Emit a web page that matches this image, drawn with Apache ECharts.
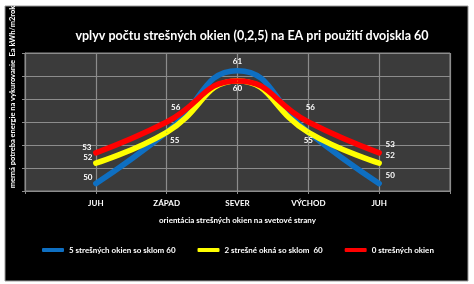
<!DOCTYPE html>
<html>
<head>
<meta charset="utf-8">
<script src="https://cdn.jsdelivr.net/npm/echarts@6/dist/echarts.min.js"></script>
<style>
html,body{margin:0;padding:0;background:#fff;}
#c{width:474px;height:284px;}
</style>
</head>
<body>
<div id="c"></div>
<script>
// ---- data ----
const categories = ['JUH', 'ZÁPAD', 'SEVER', 'VÝCHOD', 'JUH'];
const seriesNames = ['5 strešných okien so sklom 60', '2 strešné okná so sklom  60', '0 strešných okien'];
const blueValues = [50, 55, 61, 55, 50];
const yellowValues = [52, 55, 60, 55, 52];
const redValues = [53, 56, 60, 56, 53];
const titleText = 'vplyv počtu strešných okien (0,2,5) na EA pri použití dvojskla 60';
const xTitle = 'orientácia strešných okien na svetové strany';
const yTitle = 'merná potreba energie na vykurovanie  Ea kWh/m2rok';

// label placement per series/point (null = no label)
const blueLabelOffsets = [[-8, -6], [8, 8], [0, -9], [0, 8], [11, -8]];
const yellowLabelOffsets = [[-8, -6], null, [0, 7], null, [11, -8]];
const redLabelOffsets = [[-9, -5], [9, -15], null, [2, -15], [11, -8]];

const colors = ['#0e6fc2', '#ffff00', '#ff0000'];
const FONT = 'Lato';

const cats = [''].concat(categories, ['']);
function build(values, offsets, color, name) {
  const data = [null];
  values.forEach((v, i) => {
    const off = offsets[i];
    data.push({
      value: v,
      label: off ? { show: true, position: 'inside', offset: off } : { show: false }
    });
  });
  data.push(null);
  return {
    name: name,
    type: 'line',
    data: data,
    smooth: 0.5,
    symbol: 'circle',
    symbolSize: 1,
    showSymbol: true,
    connectNulls: false,
    lineStyle: { color: color, width: 5.5, cap: 'round' },
    itemStyle: { color: color },
    label: { color: '#fff', fontFamily: FONT, fontWeight: 'bold', fontSize: 8, formatter: '{c}' },
    emphasis: { disabled: true },
    animation: false
  };
}

const chart = echarts.init(document.getElementById('c'), null, { renderer: 'canvas' });
chart.setOption({
  backgroundColor: '#ffffff',
  animation: false,
  color: colors,
  graphic: [
    { type: 'rect', z: -10, shape: { x: 5, y: 6, width: 463, height: 275 },
      style: { fill: '#000', stroke: '#9a9a9a', lineWidth: 1 } },
    { type: 'text', x: 13, y: 97, rotation: Math.PI / 2, z: 10,
      style: { text: yTitle, fill: '#fff', font: 'bold 7.5px ' + FONT, textAlign: 'center', textVerticalAlign: 'middle' } }
  ],
  title: {
    text: titleText, left: 247, top: 24, textAlign: 'center',
    textStyle: { color: '#fff', fontFamily: FONT, fontWeight: 'bold', fontSize: 12.5 }
  },
  legend: {
    left: 42, top: 246, padding: 0, itemWidth: 22, itemHeight: 4, itemGap: 22,
    icon: 'roundRect',
    data: seriesNames,
    textStyle: { color: '#fff', fontFamily: FONT, fontWeight: 'bold', fontSize: 8 }
  },
  grid: { left: 25, right: 24, top: 53, bottom: 93, show: true, backgroundColor: '#3b3b3b', borderColor: '#8c8c8c', borderWidth: 1 },
  xAxis: {
    type: 'category', data: cats, boundaryGap: false,
    name: xTitle, nameLocation: 'middle', nameGap: 25,
    nameTextStyle: { color: '#fff', fontFamily: FONT, fontWeight: 'bold', fontSize: 8 },
    axisLine: { lineStyle: { color: '#8c8c8c' } },
    axisTick: { show: true, length: 3, lineStyle: { color: '#8c8c8c' } },
    axisLabel: { color: '#fff', fontFamily: FONT, fontWeight: 'bold', fontSize: 8, margin: 8, interval: 0 },
    splitLine: { show: true, lineStyle: { color: '#8c8c8c', width: 1.2 } }
  },
  yAxis: {
    type: 'value', min: 49.28, max: 62.72, interval: 2.24,
    axisLine: { show: true, lineStyle: { color: '#8c8c8c' } },
    axisTick: { show: true, length: 3, lineStyle: { color: '#8c8c8c' } },
    axisLabel: { show: false },
    splitLine: { show: true, lineStyle: { color: '#8c8c8c', width: 1.2 } }
  },
  series: [
    build(blueValues, blueLabelOffsets, colors[0], seriesNames[0]),
    build(yellowValues, yellowLabelOffsets, colors[1], seriesNames[1]),
    build(redValues, redLabelOffsets, colors[2], seriesNames[2])
  ]
});
</script>
</body>
</html>
